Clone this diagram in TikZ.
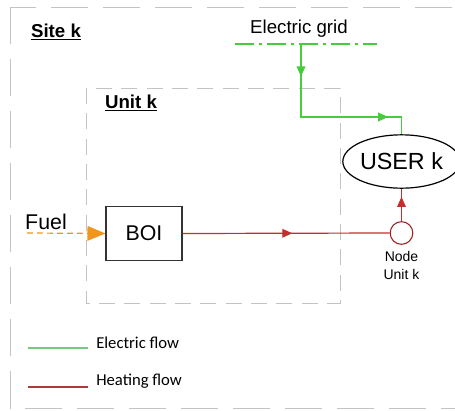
\documentclass[tikz,border=0pt]{standalone}
\usepackage{fontspec}
\setmainfont{Liberation Sans}
\newfontfamily\legendfont{Carlito}
\usepackage{xcolor}
\usepackage{tikz}
\definecolor{clrElec}   {RGB}{70,205,60}
\definecolor{clrHeat}   {RGB}{200,45,45}
\definecolor{clrFuel}   {RGB}{240,150,30}
\definecolor{clrBorder} {RGB}{195,195,195}
\definecolor{clrLegElec}{RGB}{120,200,130}
\definecolor{clrLegHeat}{RGB}{170,60,60}
\usetikzlibrary{shapes.geometric,arrows.meta,positioning,decorations.markings}

\begin{document}
\begin{tikzpicture}[
  x=0.75pt, y=-0.75pt,                       % one unit = one pixel
  every node/.style = {font=\fontsize{14}{16}\selectfont},
  %--- frames ---------------------------------------------------------
  sitest/.style   = {draw=clrBorder, line width=0.6pt,
                     dash pattern=on 28pt off 11pt},
  unitst/.style   = {draw=clrBorder, line width=0.6pt,
                     dash pattern=on 12pt off 7pt},
  %--- node styles ----------------------------------------------------
  titlest/.style  = {font=\fontsize{14}{16}\selectfont\bfseries, inner sep=1pt},
  boist/.style    = {draw=black!80, line width=0.8pt, rectangle,
                     minimum width=57pt, minimum height=41pt,
                     font=\fontsize{16}{18}\selectfont},
  userst/.style   = {draw=black, line width=0.9pt, ellipse, inner sep=0pt,
                     minimum width=73pt, minimum height=40pt,
                     font=\fontsize{17.5}{19}\selectfont},
  nodest/.style   = {draw=clrHeat!80!black, circle, line width=0.8pt,
                     minimum size=17pt, inner sep=0pt},
  smallst/.style  = {font=\fontsize{10.5}{13.5}\selectfont, align=center},
  legst/.style    = {font=\legendfont\fontsize{12.5}{14}\selectfont,
                     anchor=west, inner sep=0pt},
  %--- connector styles -----------------------------------------------
  elec/.style     = {draw=clrElec, line width=1pt},
  heat/.style     = {draw=clrHeat, line width=0.9pt},
  gridst/.style   = {draw=clrElec, line width=0.9pt,
                     dash pattern=on 14pt off 4pt on 2pt off 4pt},
  fuelst/.style   = {draw=clrFuel, line width=0.9pt,
                     dash pattern=on 4.5pt off 3pt,
                     -{Triangle[length=13.5pt,width=11pt,fill=clrFuel]}},
  midarr/.style   = {postaction={decorate}, decoration={markings,
                     mark=at position #1 with {\arrow{Triangle[length=7.5pt,width=6.5pt]}}}},
]
\useasboundingbox (0,0) rectangle (455,411);

% ---- Frames --------------------------------------------------------
\draw[sitest] (10,7) rectangle (480,408);
\draw[unitst] (86,88) rectangle (340,303);

% ---- Nodes ---------------------------------------------------------
\node[titlest] (site) at (56,32) {\underline{Site k}};
\node[titlest] (unit) at (131,103) {\underline{Unit k}};
\node (grid) at (299,29) {Electric grid};

\node[boist]  (boi)  at (144,233.5) {BOI};
\node[userst] (user) at (401.5,161.5) {USER k};
\node[nodest] (nd)   at (401.5,233) {};
\node[smallst, below=1pt of nd] (ndlabel) {Node\\Unit k};

\node[font=\fontsize{16}{18}\selectfont] (fuel) at (46,222) {Fuel};

\coordinate (gridL)  at (235,44);
\coordinate (gridR)  at (377,44);
\coordinate (tap)    at (301,44);
\coordinate (bend)   at (401.5,117);
\coordinate (fuelin) at (27,233);

% ---- Connectors ----------------------------------------------------
\draw[gridst] (gridL) -- (gridR);
\draw[elec, midarr=0.17, decoration={markings,
      mark=at position 0.84 with {\arrow{Triangle[length=7.5pt,width=6.5pt]}}}]
      (tap) |- (bend) -- (user.north);
\draw[heat, midarr=0.53] (boi.east) -- (nd.west);
\draw[heat, midarr=0.75] (nd.north) -- (user.south);
\draw[fuelst] (fuelin) -- (boi.west);

% ---- Legend --------------------------------------------------------
\coordinate (leg1a) at (28,348);
\coordinate (leg1b) at (88,348);
\coordinate (leg2a) at (28,387);
\coordinate (leg2b) at (88,387);
\draw[draw=clrLegElec, line width=0.8pt] (leg1a) -- (leg1b);
\draw[draw=clrLegHeat, line width=0.8pt] (leg2a) -- (leg2b);
\node[legst] (legelec) at (96,343) {Electric flow};
\node[legst] (legheat) at (96,381) {Heating flow};

\end{tikzpicture}
\end{document}
